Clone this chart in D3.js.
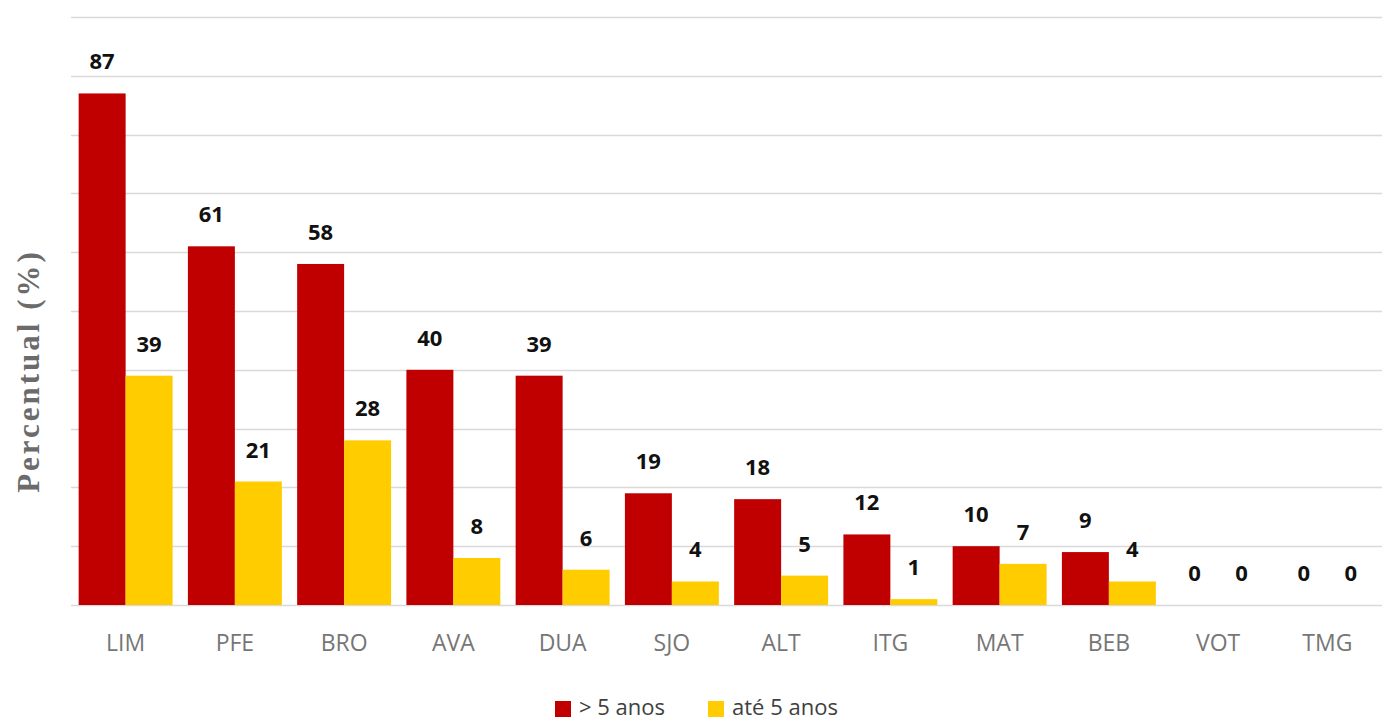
<!DOCTYPE html>
<html>
<head>
<meta charset="utf-8">
<script src="https://cdn.jsdelivr.net/npm/d3@7"></script>
<style>
  body { margin: 0; background: #fff; }
  svg { display: block; }
</style>
</head>
<body>
<div id="chart"></div>
<script>
// data
var categories = ["LIM", "PFE", "BRO", "AVA", "DUA", "SJO", "ALT", "ITG", "MAT", "BEB", "VOT", "TMG"];
var seriesNames = ["> 5 anos", "até 5 anos"];
var maisDe5 = [87, 61, 58, 40, 39, 19, 18, 12, 10, 9, 0, 0];
var ate5 = [39, 21, 28, 8, 6, 4, 5, 1, 7, 4, 0, 0];
var colors = ["#c00000", "#ffcc00"];
var gridTicks = [0, 10, 20, 30, 40, 50, 60, 70, 80, 90, 100];

var svgWidth = 1393;
var svgHeight = 722;

var chartMargin = { top: 17, right: 11, bottom: 117, left: 71 };
var chartWidth = svgWidth - chartMargin.left - chartMargin.right;
var chartHeight = svgHeight - chartMargin.top - chartMargin.bottom;

var svg = d3.select("#chart").append("svg")
  .attr("width", svgWidth)
  .attr("height", svgHeight);

var chartGroup = svg.append("g")
  .attr("transform", `translate(${chartMargin.left}, ${chartMargin.top})`);

var xScale = d3.scaleBand()
  .domain(categories)
  .range([0, chartWidth])
  .paddingInner(0.14)
  .paddingOuter(0.07);

var xSub = d3.scaleBand()
  .domain(seriesNames)
  .range([0, xScale.bandwidth()]);

var yScale = d3.scaleLinear()
  .domain([0, 100])
  .range([chartHeight, 0]);

// gridlines
chartGroup.append("g")
  .selectAll("line")
  .data(gridTicks)
  .enter()
  .append("line")
  .attr("x1", 0)
  .attr("x2", chartWidth)
  .attr("y1", d => Math.round(yScale(d)) + 0.5)
  .attr("y2", d => Math.round(yScale(d)) + 0.5)
  .attr("stroke", "#d9d9d9")
  .attr("stroke-width", 1.5);

// rows for grouped bars
var rows = categories.map(function(c, i) {
  return { cat: c, values: [maisDe5[i], ate5[i]] };
});

var groups = chartGroup.selectAll(".grp")
  .data(rows)
  .enter()
  .append("g")
  .attr("class", "grp")
  .attr("transform", d => `translate(${xScale(d.cat)}, 0)`);

groups.selectAll("rect")
  .data(d => d.values.map((v, j) => ({ name: seriesNames[j], value: v, j: j })))
  .enter()
  .append("rect")
  .attr("x", d => xSub(d.name))
  .attr("y", d => yScale(d.value))
  .attr("width", xSub.bandwidth())
  .attr("height", d => chartHeight - yScale(d.value))
  .attr("fill", d => colors[d.j]);

groups.selectAll("text")
  .data(d => d.values.map((v, j) => ({ name: seriesNames[j], value: v })))
  .enter()
  .append("text")
  .attr("x", d => xSub(d.name) + xSub.bandwidth() / 2)
  .attr("y", d => yScale(d.value) - 24)
  .attr("text-anchor", "middle")
  .attr("font-family", "'Open Sans', sans-serif")
  .attr("font-weight", "bold")
  .attr("font-size", "22px")
  .attr("fill", "#111")
  .text(d => d.value);

// x axis
var xAxis = d3.axisBottom(xScale).tickSize(0).tickPadding(30);
var xg = chartGroup.append("g")
  .attr("transform", `translate(0, ${chartHeight})`)
  .call(xAxis);
xg.select(".domain").remove();
xg.selectAll("text")
  .attr("font-family", "'Open Sans', sans-serif")
  .attr("font-size", "23px")
  .attr("fill", "#767676");

// y axis title
svg.append("text")
  .attr("transform", "translate(39, 371) rotate(-90)")
  .attr("text-anchor", "middle")
  .attr("font-family", "'Liberation Serif', serif")
  .attr("font-weight", "bold")
  .attr("font-size", "31px")
  .attr("letter-spacing", "3px")
  .attr("fill", "#6b6b6b")
  .text("Percentual (%)");

// legend
var legend = svg.append("g").attr("transform", "translate(555, 700)");
var legendX = [0, 153];
seriesNames.forEach(function(name, i) {
  var lg = legend.append("g").attr("transform", `translate(${legendX[i]}, 0)`);
  lg.append("rect")
    .attr("y", 1)
    .attr("width", 16)
    .attr("height", 16)
    .attr("fill", colors[i]);
  lg.append("text")
    .attr("x", 24)
    .attr("y", 15)
    .attr("font-family", "'Open Sans', sans-serif")
    .attr("font-size", "22px")
    .attr("fill", "#404040")
    .text(name);
});
</script>
</body>
</html>
